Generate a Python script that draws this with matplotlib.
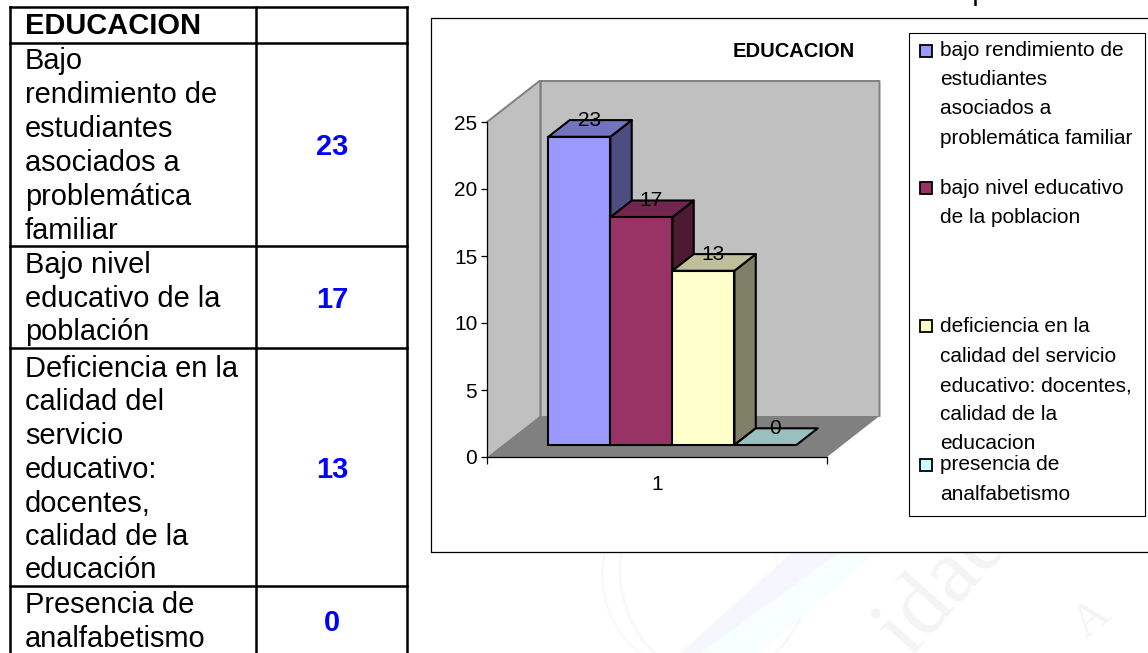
import matplotlib
matplotlib.use("Agg")
import matplotlib.pyplot as plt
from matplotlib.patches import Polygon, Rectangle, Ellipse

plt.rcParams['font.family'] = ['Liberation Sans', 'DejaVu Sans']

# ---- data ----
categories = [1]
series_names = ["bajo rendimiento de\nestudiantes\nasociados a\nproblemática familiar",
                "bajo nivel educativo\nde la poblacion",
                "deficiencia en la\ncalidad del servicio\neducativo: docentes,\ncalidad de la\neducacion",
                "presencia de\nanalfabetismo"]
values = [23, 17, 13, 0]
yticks = [0, 5, 10, 15, 20, 25]
chart_title = "EDUCACION"
table_header = "EDUCACION"
table_rows = [
    ["Bajo", "rendimiento de", "estudiantes", "asociados a", "problemática", "familiar"],
    ["Bajo nivel", "educativo de la", "población"],
    ["Deficiencia en la", "calidad del", "servicio", "educativo:", "docentes,", "calidad de la", "educación"],
    ["Presencia de", "analfabetismo"],
]
top_text = [("Tabla No 17", 10), ("Resultados de la Mediana factor Educación", 212),
            ("Sector", 770), ("Grupo", 925)]

# ---- styles ----
front = ["#9999FF", "#993366", "#FFFFCC", "#CCFFFF"]
top = ["#7373BF", "#73264D", "#BFBF99", "#99BFBF"]
side = ["#4D4D80", "#4D1933", "#808066", "#668080"]
W, H = 1148, 653

fig = plt.figure(figsize=(W / 100, H / 100), dpi=100, facecolor="white")

# page layer in pixel coordinates
bg = fig.add_axes([0, 0, 1, 1])
bg.set_xlim(0, W)
bg.set_ylim(H, 0)
bg.axis("off")

# faint watermark
wm = "#F4F4F4"
bg.text(945, 585, "idad", fontsize=66, color=wm, rotation=48, family="Liberation Serif",
        ha="center", va="center", zorder=0)
bg.text(1092, 620, "A", fontsize=34, color=wm, rotation=38, family="Liberation Serif",
        ha="center", va="center", zorder=0)
bg.add_patch(Ellipse((715, 570), 190, 215, fill=False, ec="#F6F6F6", lw=1.5, zorder=0))
bg.add_patch(Ellipse((690, 575), 175, 190, fill=False, ec="#F8F8F8", lw=1.5, zorder=0))
bg.add_patch(Polygon([(680, 653), (800, 545), (850, 545), (700, 653)], fc="#F6F6FE", ec="none", zorder=0))
bg.add_patch(Polygon([(700, 653), (850, 545), (885, 545), (760, 653)], fc="#F6FEFE", ec="none", zorder=0))

# caption clipped at the top of the page, as in the reference
for s, x in top_text:
    bg.text(x, 0.5, s, fontsize=20.9, color="#000000", ha="left", va="baseline")

# table
lw_t = 1.8
tx0, tx1, tx2 = 10, 256, 407
row_lines = [7, 43, 246, 348, 586]
for y in row_lines:
    bg.plot([tx0, tx2], [y, y], color="black", lw=lw_t, solid_capstyle="projecting")
for x in (tx0, tx1, tx2):
    bg.plot([x, x], [7, H + 2], color="black", lw=lw_t)
bg.set_xlim(0, W)
bg.set_ylim(H, 0)
bg.text(25, 34, table_header, fontsize=20.9, fontweight="bold", va="baseline")
baselines = [[69, 103, 137, 171, 205, 239], [273, 307, 340],
             [377, 410, 444, 478, 512, 545, 578], [613, 647]]
num_y = [147, 300, 470, 623]
for lines, ys, v, ny in zip(table_rows, baselines, values, num_y):
    for s, y in zip(lines, ys):
        bg.text(25, y, s, fontsize=20.9, va="baseline")
    bg.text(332, ny, str(v), fontsize=20.9, fontweight="bold", color="#0000FF",
            ha="center", va="center")

# chart frame
bg.plot([W + 2, 431, 431, W + 2], [18, 18, 552, 552], color="black", lw=0.9)
bg.add_patch(Rectangle((431, 18), W - 431 + 2, 534, fc="white", ec="none", zorder=1))

# legend
bg.add_patch(Rectangle((909, 33), 236, 483, fc="white", ec="black", lw=0.8, zorder=1.5))
swatch_y = [45, 182, 320, 459]
legend_base = [[56, 85, 114, 144], [194, 223], [332, 362, 391, 420, 449], [470, 500]]
for name, c, sy, ys in zip(series_names, front, swatch_y, legend_base):
    bg.add_patch(Rectangle((920, sy), 11.5, 11.5, fc=c, ec="black", lw=1.3, zorder=2))
    for s, y in zip(name.split("\n"), ys):
        bg.text(940, y, s, fontsize=15.0, va="baseline", zorder=2)
bg.text(794, 57, chart_title, fontsize=14.5, fontweight="bold", ha="center",
        va="baseline", zorder=2)

# 3-D column chart, in data coordinates with an oblique depth offset
ax = fig.add_axes([487 / W, 1 - 457 / H, 340 / W, 335 / H], zorder=3)
ax.patch.set_alpha(0)
ax.set_xlim(0.5, 1.5)
ax.set_ylim(0, 25)
DX = 52.5 / 340
DY = 41 / 13.4


def P(x, y, d):
    return (x + d * DX, y + d * DY)


y_top = yticks[-1]
ax.add_patch(Polygon([P(.5, 0, 0), P(.5, 0, 1), P(.5, y_top, 1), P(.5, y_top, 0)],
                     fc="#C0C0C0", ec="none", clip_on=False, zorder=1))
ax.add_patch(Polygon([P(.5, 0, 1), P(1.5, 0, 1), P(1.5, y_top, 1), P(.5, y_top, 1)],
                     fc="#C0C0C0", ec="none", clip_on=False, zorder=1))
ax.add_patch(Polygon([P(.5, 0, 0), P(1.5, 0, 0), P(1.5, 0, 1), P(.5, 0, 1)],
                     fc="#808080", ec="none", clip_on=False, zorder=1.1))
# wall borders
wall = [P(.5, y_top, 0), P(.5, y_top, 1), P(1.5, y_top, 1), P(1.5, 0, 1)]
ax.plot(*zip(*wall), color="#808080", lw=1.4, clip_on=False, zorder=1.2)
ax.plot(*zip(P(.5, 0, 1), P(.5, y_top, 1)), color="#808080", lw=1.8, clip_on=False, zorder=1.2)

w = 0.1824
d0 = 0.293
db = 0.407
edge = dict(ec="black", lw=1.5, joinstyle="round", clip_on=False)
n = len(values)
for i, v in enumerate(values):
    xl = categories[0] + (i - n / 2) * w
    xr = xl + w
    z = 2 + i
    if v > 0:
        ax.add_patch(Polygon([P(xr, 0, d0), P(xr, 0, d0 + db), P(xr, v, d0 + db), P(xr, v, d0)],
                             fc=side[i], zorder=z, **edge))
    ax.add_patch(Polygon([P(xl, v, d0), P(xr, v, d0), P(xr, v, d0 + db), P(xl, v, d0 + db)],
                         fc=top[i], zorder=z + 0.1, **edge))
    fx, fy = P(xl, 0, d0)
    if v > 0:
        ax.bar(fx, v, width=w, bottom=fy, align="edge", color=front[i], edgecolor="black",
               linewidth=1.5, clip_on=False, zorder=z + 0.2)
    lx, ly = P((xl + xr) / 2, v, d0)
    ax.annotate(str(v), (lx, ly), xytext=(7, 12), textcoords="offset points", fontsize=15.0,
                ha="center", va="center", zorder=20, annotation_clip=False)

for s in ("top", "right"):
    ax.spines[s].set_visible(False)
for s in ("left", "bottom"):
    ax.spines[s].set_linewidth(0.9)
    ax.spines[s].set_zorder(15)
ax.set_yticks(yticks)
ax.tick_params(axis="y", labelsize=15.0, length=4, width=0.9, pad=3)
ax.set_xticks([0.5, 1.5])
ax.set_xticklabels(["", ""])
ax.set_xticks(categories, labels=[str(c) for c in categories], minor=True)
ax.tick_params(axis="x", which="major", length=5, width=0.9)
ax.tick_params(axis="x", which="minor", length=0, labelsize=15.0, pad=13)

fig.savefig("out.png", dpi=100)
